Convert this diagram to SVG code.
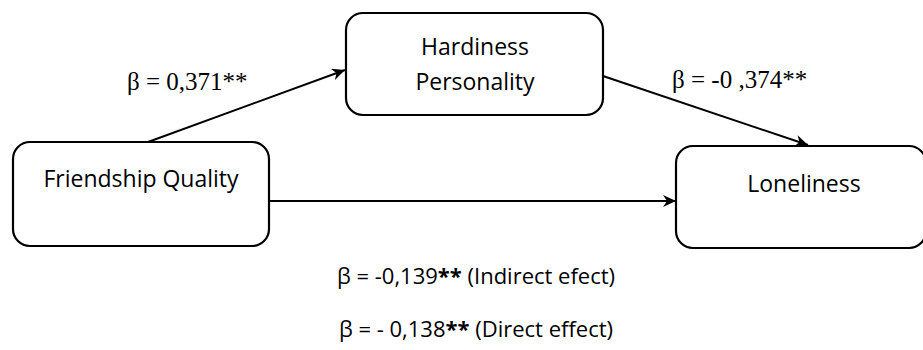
<svg xmlns="http://www.w3.org/2000/svg" width="923" height="350" viewBox="0 0 923 350">
<style>
.box{fill:#fff;stroke:#000;stroke-width:2.2}
.lbl{font-family:"Open Sans",Lato,sans-serif;font-size:23px;fill:#000;text-anchor:middle}
.beta{font-family:"Liberation Serif","Times New Roman",serif;font-size:25px;fill:#000}
.eff{font-family:"Open Sans",Lato,sans-serif;font-size:22px;fill:#000;text-anchor:middle}
.conn{stroke:#000;stroke-width:2;fill:none;marker-end:url(#arr)}
</style>
<defs>
<marker id="arr" markerUnits="userSpaceOnUse" markerWidth="14" markerHeight="12" refX="13" refY="6" orient="auto">
<path d="M0,0 L13,6 L0,12 L4,6 z" fill="#000"/>
</marker>
</defs>
<rect width="923" height="350" fill="#fff"/>
<g id="connectors">
<line class="conn" x1="148" y1="142" x2="345" y2="70"/>
<line class="conn" x1="603" y1="76" x2="808" y2="145"/>
<line class="conn" x1="269" y1="201" x2="676" y2="201"/>
</g>
<g id="hardiness">
<rect class="box" x="346" y="13" width="257" height="102" rx="17"/>
<text class="lbl" x="475" y="55">Hardiness</text>
<text class="lbl" x="475" y="90">Personality</text>
</g>
<g id="friendship">
<rect class="box" x="13" y="142" width="256" height="104" rx="17"/>
<text class="lbl" x="141" y="187">Friendship Quality</text>
</g>
<g id="loneliness">
<rect class="box" x="676" y="146" width="250" height="102" rx="17"/>
<text class="lbl" x="804" y="192">Loneliness</text>
</g>
<g id="labels">
<text class="beta" x="127" y="90">β = 0,371**</text>
<text class="beta" x="672" y="88">β = -0 ,374**</text>
<text class="eff" x="476" y="284">β = -0,139<tspan font-weight="bold">**</tspan> (Indirect efect)</text>
<text class="eff" x="476" y="337">β = - 0,138<tspan font-weight="bold">**</tspan> (Direct effect)</text>
</g>
</svg>
